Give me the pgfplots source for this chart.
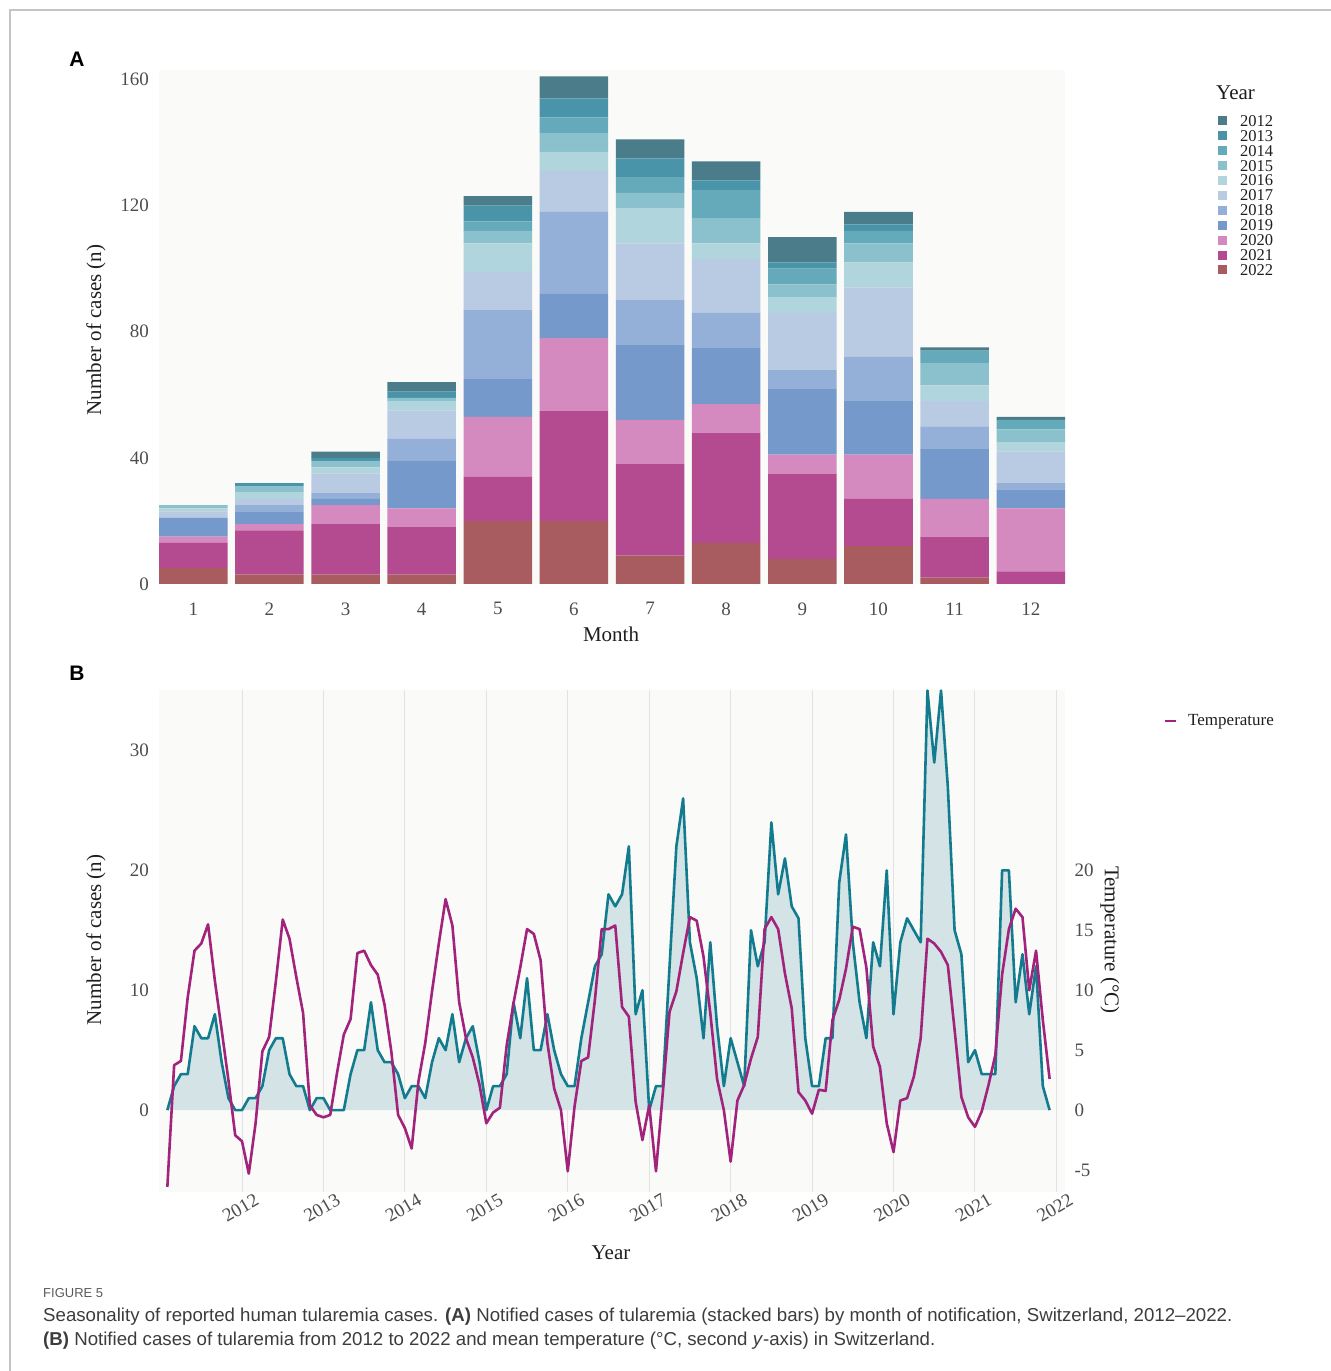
\documentclass[border=0pt]{standalone}
\usepackage{fontspec}
\setmainfont{Liberation Serif}
\newfontfamily\sansf{Liberation Sans}
\usepackage{graphicx}
\usepackage{pgfplots}
\pgfplotsset{compat=1.18}
\usepackage{pgfplotstable}

\definecolor{c2012}{HTML}{4A7C89}
\definecolor{c2013}{HTML}{4A94AA}
\definecolor{c2014}{HTML}{65AABB}
\definecolor{c2015}{HTML}{8BC0CD}
\definecolor{c2016}{HTML}{B1D5DD}
\definecolor{c2017}{HTML}{B9CAE3}
\definecolor{c2018}{HTML}{95B0D8}
\definecolor{c2019}{HTML}{7599CB}
\definecolor{c2020}{HTML}{D48ABE}
\definecolor{c2021}{HTML}{B44B91}
\definecolor{c2022}{HTML}{A95C5F}
\definecolor{panelbg}{HTML}{FAFAF8}
\definecolor{tickgray}{HTML}{4D4D4D}
\definecolor{titlecol}{HTML}{1E1E1E}
\definecolor{gridgray}{HTML}{E2E2E2}
\definecolor{casecol}{HTML}{137B8E}
\definecolor{areafill}{HTML}{D3E3E6}
\definecolor{tempcol}{HTML}{A2237C}
\definecolor{framegray}{HTML}{C4C4C4}
\definecolor{capcol}{HTML}{3C3C3C}
\definecolor{figgray}{HTML}{5A5A5A}

\pgfplotstableread{
m y2012 y2013 y2014 y2015 y2016 y2017 y2018 y2019 y2020 y2021 y2022
1 0 0 0 1 1 2 0 6 2 8 5
2 0 1 0 2 2 2 2 4 2 14 3
3 2 1 0 2 2 6 2 2 6 16 3
4 3 2 0 1 3 9 7 15 6 15 3
5 3 5 3 4 9 12 22 12 19 14 20
6 7 6 5 6 6 13 26 14 23 35 20
7 6 6 5 5 11 18 14 24 14 29 9
8 6 3 9 8 5 17 11 18 9 35 13
9 8 2 5 4 5 18 6 21 6 27 8
10 4 2 4 6 8 22 14 17 14 15 12
11 1 0 4 7 5 8 7 16 12 13 2
12 1 0 3 4 3 10 2 6 20 4 0
}\monthdata

\pgfplotstableread{
i c t
0 0 -6.4
1 2 3.75
2 3 4.1
3 3 9.4
4 7 13.3
5 6 13.9
6 6 15.5
7 8 10.8
8 4 6.7
9 1 2.5
10 0 -2.1
11 0 -2.6
12 1 -5.3
13 1 -1.1
14 2 4.9
15 5 6.1
16 6 10.8
17 6 15.9
18 3 14.3
19 2 11.1
20 2 8.1
21 0 0.4
22 1 -0.4
23 1 -0.6
24 0 -0.4
25 0 3.1
26 0 6.3
27 3 7.6
28 5 13.1
29 5 13.3
30 9 12.1
31 5 11.3
32 4 8.8
33 4 4.9
34 3 -0.4
35 1 -1.5
36 2 -3.2
37 2 2.4
38 1 5.6
39 4 9.9
40 6 13.9
41 5 17.6
42 8 15.4
43 4 9.0
44 6 6.0
45 7 4.4
46 4 2.1
47 0 -1.1
48 2 -0.2
49 2 0.2
50 3 5.4
51 9 8.9
52 6 11.9
53 11 15.1
54 5 14.7
55 5 12.5
56 8 5.6
57 5 1.8
58 3 0
59 2 -5.1
60 2 0.3
61 6 4.1
62 9 4.4
63 12 9.2
64 13 15.1
65 18 15.1
66 17 15.4
67 18 8.6
68 22 7.8
69 8 0.7
70 10 -2.5
71 0 0.4
72 2 -5.1
73 2 1.4
74 12 8.2
75 22 9.9
76 26 13.1
77 14 16.1
78 11 15.8
79 6 12.8
80 14 8.1
81 7 2.6
82 2 0
83 6 -4.3
84 4 0.8
85 2 2.1
86 15 4.3
87 12 6.1
88 14 15.1
89 24 16.1
90 18 15.1
91 21 11.4
92 17 8.5
93 16 1.5
94 6 0.8
95 2 -0.3
96 2 1.7
97 6 1.6
98 6 7.5
99 19 9.2
100 23 11.8
101 14 15.3
102 9 15.1
103 6 11.9
104 14 5.3
105 12 3.6
106 20 -1.1
107 8 -3.5
108 14 0.8
109 16 1.0
110 15 2.8
111 14 6.0
112 35 14.3
113 29 13.9
114 35 13.2
115 27 12.1
116 15 6.7
117 13 1.1
118 4 -0.6
119 5 -1.4
120 3 -0.1
121 3 2.1
122 3 4.6
123 20 11.3
124 20 15.1
125 9 16.8
126 13 16.1
127 8 10.0
128 12 13.3
129 2 7.5
130 0 2.6
}\tsdata

\newcommand{\tickfont}{\fontsize{19bp}{22bp}\selectfont}
\newcommand{\titlefont}{\fontsize{21bp}{24bp}\selectfont}

\begin{document}
\begin{tikzpicture}[x=1bp,y=1bp]
\useasboundingbox (0,0) rectangle (1331,1371);
\draw[framegray, line width=1.2bp] (10,0) -- (10,1361) -- (1331,1361);

% ---------- Panel A ----------
\begin{axis}[
  at={(159bp,787bp)}, anchor=south west,
  scale only axis, width=906bp, height=514bp,
  xmin=0.55, xmax=12.45, ymin=0, ymax=163,
  axis line style={draw=none}, tick style={draw=none},
  axis background/.style={fill=panelbg},
  ybar stacked, bar width=0.9,
  xtick={1,2,3,4,5,6,7,8,9,10,11,12},
  ytick={0,40,80,120,160},
  /pgf/number format/assume math mode=true,
  ticklabel style={font=\tickfont, text=tickgray},
  yticklabel style={xshift=-6.5bp},
  xticklabel style={yshift=-15bp},
]
\addplot[fill=c2022, draw=none] table[x=m,y=y2022]{\monthdata};
\addplot[fill=c2021, draw=none] table[x=m,y=y2021]{\monthdata};
\addplot[fill=c2020, draw=none] table[x=m,y=y2020]{\monthdata};
\addplot[fill=c2019, draw=none] table[x=m,y=y2019]{\monthdata};
\addplot[fill=c2018, draw=none] table[x=m,y=y2018]{\monthdata};
\addplot[fill=c2017, draw=none] table[x=m,y=y2017]{\monthdata};
\addplot[fill=c2016, draw=none] table[x=m,y=y2016]{\monthdata};
\addplot[fill=c2015, draw=none] table[x=m,y=y2015]{\monthdata};
\addplot[fill=c2014, draw=none] table[x=m,y=y2014]{\monthdata};
\addplot[fill=c2013, draw=none] table[x=m,y=y2013]{\monthdata};
\addplot[fill=c2012, draw=none] table[x=m,y=y2012]{\monthdata};
\end{axis}

% ---------- Panel B (cases) ----------
\begin{axis}[
  at={(159bp,179bp)}, anchor=south west,
  scale only axis, width=906bp, height=502bp,
  xmin=-1.23, xmax=132.27, ymin=-6.83, ymax=35.05,
  axis line style={draw=none}, tick style={draw=none},
  axis background/.style={fill=panelbg},
  xtick={11,23,35,47,59,71,83,95,107,119,131},
  xticklabels={2012,2013,2014,2015,2016,2017,2018,2019,2020,2021,2022},
  xmajorgrids, major grid style={gridgray, line width=1bp},
  ytick={0,10,20,30},
  /pgf/number format/assume math mode=true,
  ticklabel style={font=\tickfont, text=tickgray},
  yticklabel style={xshift=-6.5bp},
  xticklabel style={anchor=center, yshift=-16bp, xshift=-1.5bp, rotate=30},
]
\addplot[fill=areafill, draw=none] table[x=i,y=c]{\tsdata} \closedcycle;
\addplot[casecol, line width=2.6bp, line join=round] table[x=i,y=c]{\tsdata};
\end{axis}

% ---------- Panel B (temperature, right axis) ----------
\begin{axis}[
  at={(159bp,179bp)}, anchor=south west,
  scale only axis, width=906bp, height=502bp,
  xmin=-1.23, xmax=132.27, ymin=-6.83, ymax=35.05,
  axis y line*=right, axis x line=none,
  axis line style={draw=none}, tick style={draw=none},
  ytick={-5,0,5,10,15,20},
  /pgf/number format/assume math mode=true,
  ticklabel style={font=\tickfont, text=tickgray},
  yticklabel style={anchor=west, xshift=6bp},
]
\addplot[tempcol, line width=2.6bp, line join=round] table[x=i,y=t]{\tsdata};
\end{axis}

% ---------- panel letters ----------
\node[inner sep=0] at (77,1312) {\sansf\bfseries\fontsize{21bp}{24bp}\selectfont A};
\node[inner sep=0] at (77,698) {\sansf\bfseries\fontsize{21bp}{24bp}\selectfont B};

% ---------- axis titles ----------
\node[rotate=90, inner sep=0, text=titlecol] at (96,1041) {\titlefont Number of cases (n)};
\node[inner sep=0, text=titlecol] at (611,737) {\titlefont Month};
\node[rotate=90, inner sep=0, text=titlecol] at (96,431) {\titlefont Number of cases (n)};
\node[rotate=-90, inner sep=0, text=titlecol] at (1110,431) {\titlefont Temperature (°C)};
\node[inner sep=0, text=titlecol] at (611,118) {\titlefont Year};

% ---------- legend A ----------
\node[anchor=west, inner sep=0, text=titlecol] at (1216,1278) {\titlefont Year};
\foreach \yr [count=\k from 0] in {2012,2013,2014,2015,2016,2017,2018,2019,2020,2021,2022} {
  \pgfmathsetmacro{\yy}{1250-14.9*\k}
  \fill[c\yr] (1218,\yy-4.5) rectangle (1227,\yy+4.5);
  \node[anchor=west, inner sep=0, text=titlecol] at (1240,\yy) {\fontsize{16.5bp}{18bp}\selectfont \yr};
}

% ---------- legend B ----------
\draw[tempcol, line width=2.6bp] (1165,650) -- (1176,650);
\node[anchor=west, inner sep=0, text=titlecol] at (1188,649) {\fontsize{17bp}{19bp}\selectfont Temperature};

% ---------- caption ----------
\node[anchor=base west, inner sep=0, text=figgray] at (43,73) {\sansf\fontsize{13bp}{15bp}\selectfont FIGURE 5};
\node[anchor=base west, inner sep=0, text=capcol] at (43,49) {\resizebox{1189bp}{!}{\sansf\fontsize{17bp}{20bp}\selectfont Seasonality of reported human tularemia cases. \textbf{(A)} Notified cases of tularemia (stacked bars) by month of notification, Switzerland, 2012–2022.}};
\node[anchor=base west, inner sep=0, text=capcol] at (43,25) {\resizebox{892bp}{!}{\sansf\fontsize{17bp}{20bp}\selectfont \textbf{(B)} Notified cases of tularemia from 2012 to 2022 and mean temperature (°C, second \textit{y}-axis) in Switzerland.}};
\end{tikzpicture}
\end{document}
